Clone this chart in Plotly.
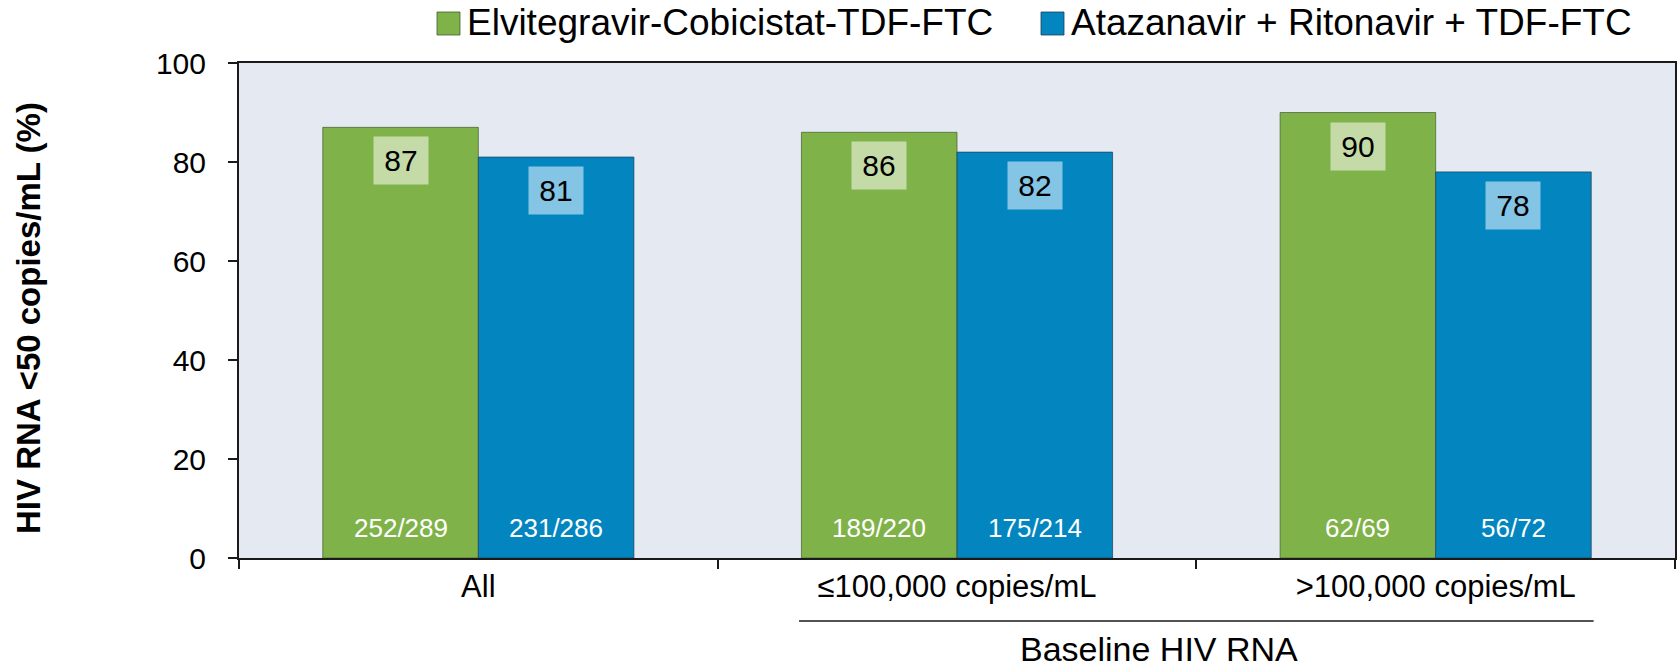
import plotly.graph_objects as go

# ---- data ----
categories = ["All", "≤100,000 copies/mL", ">100,000 copies/mL"]
series_names = ["Elvitegravir-Cobicistat-TDF-FTC", "Atazanavir + Ritonavir + TDF-FTC"]
evg_values = [87, 86, 90]
atv_values = [81, 82, 78]
evg_counts = ["252/289", "189/220", "62/69"]
atv_counts = ["231/286", "175/214", "56/72"]
y_ticks = [0, 20, 40, 60, 80, 100]
y_title = "HIV RNA <50 copies/mL (%)"
x_group_title = "Baseline HIV RNA"

# ---- styles ----
FONT = "Liberation Sans, Arial, sans-serif"
GREEN = "#7fb349"
BLUE = "#0386bf"
GREEN_BOX = "#c4dba7"
BLUE_BOX = "#84c4e4"
BG = "#e5e9f1"
AXIS = "#1a1a1a"

W, H = 1678, 671
ML, MR, MT, MB = 239, 3, 63, 113
plot_w = W - ML - MR
plot_h = H - MT - MB

def px_x(px):
    return (px - ML) / plot_w

def px_y(py):
    return (H - MB - py) / plot_h

fig = go.Figure()
fig.add_trace(go.Bar(
    x=categories, y=evg_values, name=series_names[0],
    marker=dict(color=GREEN, line=dict(color="rgba(70,90,50,0.7)", width=1)),
    hoverinfo="y", showlegend=False,
))
fig.add_trace(go.Bar(
    x=categories, y=atv_values, name=series_names[1],
    marker=dict(color=BLUE, line=dict(color="rgba(30,60,90,0.7)", width=1)),
    hoverinfo="y", showlegend=False,
))

bargap = 0.35
half = (1 - bargap) / 4  # offset of each bar centre from the category centre

annotations = []
for i, cat in enumerate(categories):
    for vals, counts, sign, box in ((evg_values, evg_counts, -1, GREEN_BOX),
                                    (atv_values, atv_counts, 1, BLUE_BOX)):
        xc = i + sign * half
        annotations.append(dict(
            x=xc, y=vals[i], xref="x", yref="y", text=str(vals[i]),
            showarrow=False, yanchor="top", yshift=-9,
            width=52, height=45, bgcolor=box,
            font=dict(family=FONT, size=30, color="black"),
        ))
        annotations.append(dict(
            x=xc, y=0, xref="x", yref="y", text=counts[i],
            showarrow=False, yanchor="middle", yshift=30,
            font=dict(family=FONT, size=26, color="white"),
        ))

# y-axis title
annotations.append(dict(
    x=px_x(28), y=px_y(318), xref="paper", yref="paper", text=f"<b>{y_title}</b>",
    textangle=-90, showarrow=False, xanchor="center", yanchor="middle",
    font=dict(family=FONT, size=33, color="black"),
))
# group title
annotations.append(dict(
    x=px_x(1159), y=px_y(649), xref="paper", yref="paper", text=x_group_title,
    showarrow=False, xanchor="center", yanchor="middle",
    font=dict(family=FONT, size=34, color="black"),
))

shapes = [dict(
    type="line", xref="x", yref="paper",
    x0=1 - 0.33, x1=2 + 0.33, y0=px_y(621), y1=px_y(621),
    line=dict(color=AXIS, width=1.5),
)]

# legend (drawn as keys + labels so the key squares match the original size)
legend_items = [
    (series_names[0], GREEN, "rgba(70,90,50,0.8)", 437, 465),
    (series_names[1], BLUE, "rgba(30,60,90,0.8)", 1041, 1069),
]
for name, col, edge, sq_left, txt_left in legend_items:
    shapes.append(dict(
        type="rect", xref="paper", yref="paper",
        x0=px_x(sq_left), x1=px_x(sq_left + 23), y0=px_y(35), y1=px_y(12),
        fillcolor=col, line=dict(color=edge, width=1),
    ))
    annotations.append(dict(
        x=px_x(txt_left), y=px_y(23), xref="paper", yref="paper", text=name,
        showarrow=False, xanchor="left", yanchor="middle",
        font=dict(family=FONT, size=37, color="black"),
    ))

fig.update_layout(
    width=W, height=H,
    margin=dict(l=ML, r=MR, t=MT, b=MB, autoexpand=False),
    paper_bgcolor="white", plot_bgcolor=BG,
    barmode="group", bargap=bargap, bargroupgap=0,
    font=dict(family=FONT, color="black"),
    showlegend=False,
    annotations=annotations,
    shapes=shapes,
    xaxis=dict(
        type="category", range=[-0.5, 2.5], tickson="boundaries",
        ticks="outside", ticklen=9, tickwidth=1.5, tickcolor=AXIS,
        showline=True, linecolor=AXIS, linewidth=2, mirror=True,
        showgrid=False, zeroline=False,
        tickfont=dict(family=FONT, size=31, color="black"),
    ),
    yaxis=dict(
        range=[0, 100], tickvals=y_ticks, ticks="outside", ticklen=9,
        tickwidth=1.5, tickcolor=AXIS,
        showline=True, linecolor=AXIS, linewidth=2, mirror=True,
        showgrid=False, zeroline=False, ticklabelstandoff=16,
        tickfont=dict(family=FONT, size=30, color="black"),
    ),
)

fig.write_html(
    "out.html",
    config={"displayModeBar": False},
    post_script="document.body.style.margin='0';document.body.style.overflow='hidden';",
)
